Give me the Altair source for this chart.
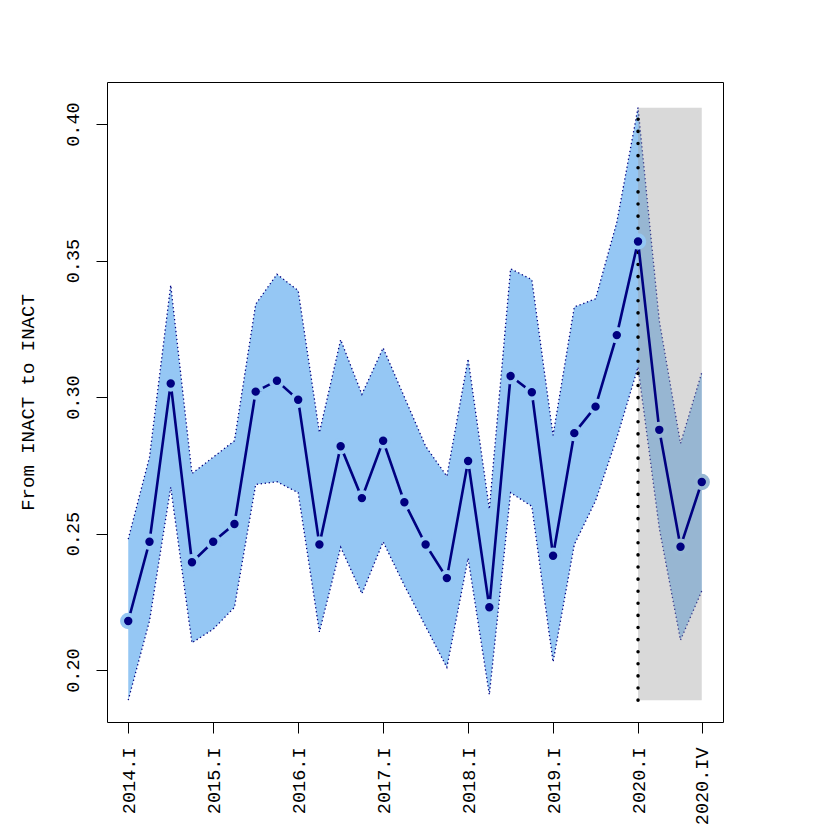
import altair as alt
import pandas as pd

quarters = [
    "2014.I", "2014.II", "2014.III", "2014.IV",
    "2015.I", "2015.II", "2015.III", "2015.IV",
    "2016.I", "2016.II", "2016.III", "2016.IV",
    "2017.I", "2017.II", "2017.III", "2017.IV",
    "2018.I", "2018.II", "2018.III", "2018.IV",
    "2019.I", "2019.II", "2019.III", "2019.IV",
    "2020.I", "2020.II", "2020.III", "2020.IV",
]
mean_vals = [
    0.218, 0.247, 0.305, 0.2395,
    0.247, 0.2535, 0.302, 0.306,
    0.299, 0.246, 0.282, 0.263,
    0.284, 0.2615, 0.246, 0.2337,
    0.2766, 0.223, 0.3077, 0.3018,
    0.2419, 0.2868, 0.2965, 0.3227,
    0.357, 0.288, 0.2452, 0.2689,
]
upper_vals = [
    0.248, 0.278, 0.341, 0.272,
    0.278, 0.284, 0.334, 0.345,
    0.339, 0.287, 0.321, 0.301,
    0.318, 0.300, 0.282, 0.271,
    0.314, 0.259, 0.347, 0.343,
    0.286, 0.333, 0.336, 0.364,
    0.406, 0.328, 0.283, 0.309,
]
lower_vals = [
    0.189, 0.218, 0.267, 0.210,
    0.215, 0.223, 0.268, 0.269,
    0.265, 0.214, 0.245, 0.228,
    0.247, 0.231, 0.216, 0.201,
    0.241, 0.191, 0.265, 0.260,
    0.203, 0.246, 0.262, 0.285,
    0.311, 0.252, 0.211, 0.229,
]
tick_labels = ["2014.I", "2015.I", "2016.I", "2017.I", "2018.I", "2019.I", "2020.I", "2020.IV"]
y_ticks = [0.20, 0.25, 0.30, 0.35, 0.40]
shade_start = "2020.I"
shade_end = "2020.IV"
shaded_quarters = ["2020.II", "2020.III", "2020.IV"]
y_title = "From INACT to INACT"

FONT = "Liberation Mono"
NAVY = "#000080"
BAND = "#95c7f4"
MIX = "#98b8d4"

df = pd.DataFrame({"q": quarters, "m": mean_vals, "u": upper_vals, "l": lower_vals})
df["shaded"] = df["q"].isin(shaded_quarters)
shade = pd.DataFrame({
    "q": [shade_start], "q2": [shade_end],
    "lo": [min(lower_vals)], "hi": [max(upper_vals)],
})

x_enc = alt.X(
    "q:N", sort=quarters,
    scale=alt.Scale(type="point", domain=quarters, padding=1.04),
    axis=alt.Axis(
        values=tick_labels, title=None, labelAngle=270, labelAlign="right",
        labelBaseline="middle", labelPadding=14, tickSize=11,
    ),
)
y_scale = alt.Scale(domain=[0.181, 0.4154], nice=False, zero=False)
y_axis = alt.Axis(
    values=y_ticks, format=".2f", title=y_title,
    labelAngle=270, labelAlign="center", labelBaseline="bottom",
    labelPadding=14, tickSize=11,
    titleX=-80, titleY=320, titleAngle=270, titleAlign="center",
    titleBaseline="middle",
)

base = alt.Chart(df)
xq = alt.X("q:N", sort=quarters)

band = base.mark_area(color=BAND, opacity=1).encode(
    x=x_enc, y=alt.Y("u:Q", scale=y_scale, axis=y_axis), y2="l:Q"
)
upper_line = base.mark_line(color=NAVY, strokeWidth=1.3, strokeDash=[1.3, 2.7]).encode(
    x=xq, y=alt.Y("u:Q")
)
lower_line = base.mark_line(color=NAVY, strokeWidth=1.3, strokeDash=[1.3, 2.7]).encode(
    x=xq, y=alt.Y("l:Q")
)
gray = alt.Chart(shade).mark_rect(color="#9a9a9a", opacity=0.38).encode(
    x=xq, x2="q2", y=alt.Y("lo:Q"), y2="hi:Q"
)
vrule = alt.Chart(shade).mark_rule(
    color="black", strokeWidth=3.5, strokeDash=[0.1, 12], strokeCap="round"
).encode(x=xq, y=alt.Y("lo:Q"), y2="hi:Q")
line = base.mark_line(color=NAVY, strokeWidth=2.6).encode(x=xq, y=alt.Y("m:Q"))
points = base.mark_circle(
    color=NAVY, opacity=1, size=154, strokeWidth=4
).encode(
    x=xq, y=alt.Y("m:Q"),
    stroke=alt.condition(alt.datum.shaded, alt.value(MIX), alt.value(BAND)),
)

chart = alt.layer(band, upper_line, lower_line, gray, vrule, line, points).properties(
    width=616, height=640,
    autosize=alt.AutoSizeParams(type="none"),
    padding={"left": 99, "top": 74, "right": 90, "bottom": 104},
).configure_view(
    stroke="black", strokeWidth=1
).configure_axis(
    domain=False, grid=False, tickColor="black", tickWidth=1,
    labelFont=FONT, labelFontSize=18.5, labelColor="black",
    titleFont=FONT, titleFontSize=19, titleColor="black", titleFontWeight="normal",
)

chart.save("out.html", embed_options={"renderer": "svg", "actions": False})
